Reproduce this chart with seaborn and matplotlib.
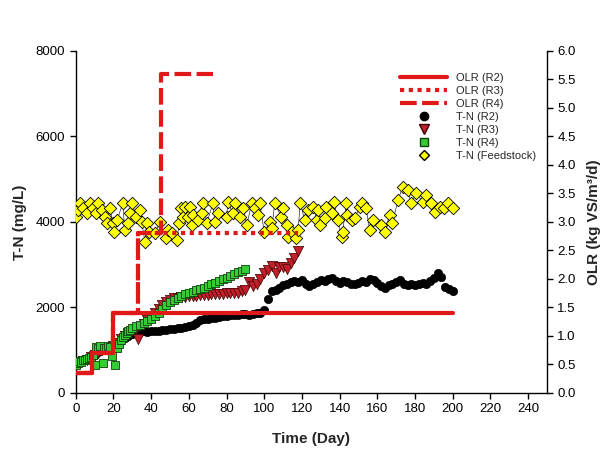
import numpy as np
import matplotlib
matplotlib.use('Agg')
import matplotlib.pyplot as plt
import seaborn as sns
from matplotlib.lines import Line2D
from matplotlib.legend_handler import HandlerLine2D

# ---- OLR (right axis), step profiles ----
olr_r2_day = [0, 8.5, 20, 200]
olr_r2 = [0.35, 0.7, 1.4, 1.4]
olr_r3_day = [0, 8.5, 20, 33, 118]
olr_r3 = [0.35, 0.7, 1.4, 2.8, 2.8]
olr_r4_day = [0, 8.5, 20, 33, 45, 73]
olr_r4 = [0.35, 0.7, 1.4, 2.8, 5.6, 5.6]

# ---- T-N (left axis) ----
tn_r2_day = list(range(0, 202, 2))
tn_r2 = [700, 720, 760, 800, 850, 900, 960, 1000, 1040, 1080,
         1100, 1150, 1220, 1280, 1330, 1370, 1400, 1420, 1440, 1430,
         1450, 1460, 1440, 1470, 1480, 1490, 1500, 1520, 1510, 1540,
         1560, 1600, 1640, 1700, 1720, 1740, 1760, 1760, 1780, 1800,
         1800, 1820, 1830, 1820, 1840, 1850, 1830, 1850, 1860, 1880,
         1950, 2200, 2380, 2420, 2450, 2520, 2560, 2600, 2620, 2600,
         2640, 2560, 2500, 2560, 2600, 2640, 2620, 2660, 2680, 2620,
         2580, 2620, 2600, 2560, 2540, 2580, 2620, 2600, 2660, 2640,
         2580, 2500, 2460, 2520, 2540, 2600, 2640, 2560, 2520, 2540,
         2520, 2560, 2580, 2560, 2620, 2700, 2800, 2720, 2480, 2440,
         2380]

tn_r3_day = [0, 2, 4, 6, 8, 10, 12, 14, 16, 18, 20, 22, 24, 26, 28, 30, 32, 33,
             36, 38, 40, 42, 44, 46, 48, 50, 52, 54, 56, 58, 60, 62, 64, 66,
             68, 70, 72, 74, 76, 78, 80, 82, 84, 86, 88, 90, 92, 94, 96, 98,
             100, 102, 104, 106, 108, 110, 112, 114, 116, 118]
tn_r3 = [680, 700, 740, 780, 850, 900, 960, 1000, 1020, 1060, 1100, 1180,
         1260, 1330, 1400, 1460, 1500, 1270, 1620, 1700, 1780, 1880, 1960,
         2060, 2120, 2180, 2220, 2230, 2240, 2250, 2260, 2270, 2280, 2290,
         2300, 2300, 2310, 2310, 2320, 2320, 2330, 2330, 2340, 2350, 2380,
         2400, 2600, 2500, 2560, 2660, 2800, 2880, 2960, 2800, 2950, 2940,
         2900, 3050, 3150, 3320]

tn_r4_day = [0, 1, 2, 3, 4, 5, 6, 7, 8, 9, 10, 11, 12, 13, 14.6, 15, 16, 17,
             18, 19, 21, 22, 23, 24, 25, 26, 27, 28, 29, 30, 32, 34, 36, 38,
             40, 42, 44, 46, 48, 50, 52, 54, 56, 58, 60, 62, 64, 66, 68, 70,
             72, 74, 76, 78, 80, 82, 84, 86, 88, 90]
tn_r4 = [660, 700, 740, 720, 770, 760, 800, 820, 850, 900, 660, 1080, 1050,
         1100, 700, 1050, 1060, 1100, 1080, 860, 650, 1050, 1150, 1240, 1300,
         1360, 1400, 1450, 1480, 1520, 1560, 1600, 1640, 1680, 1740, 1800,
         1870, 1960, 2060, 2130, 2180, 2230, 2270, 2310, 2340, 2370, 2400,
         2430, 2460, 2500, 2540, 2580, 2620, 2660, 2700, 2740, 2780, 2820,
         2860, 2900]

tn_feed_day = [0, 1, 2.3, 4, 5.8, 7.6, 9, 11, 12, 14, 15.6, 16.5, 18, 19.8,
               20.5, 22, 25, 26, 27.7, 28.8, 30, 32, 34, 35, 36.7, 37.6, 39,
               42, 44.7, 48, 49, 51, 53.6, 55, 56, 57, 58, 59.5, 60.6, 61.6,
               62, 65, 67, 67.5, 69.6, 72.8, 73.8, 75.5, 80, 80.7, 83.3, 84.4,
               87, 88.7, 90.7, 93.4, 95, 96.6, 97.6, 100, 103, 104, 105.6, 109,
               110, 112, 112.6, 114.5, 117, 118, 119, 121.5, 123, 125.8, 128,
               128.4, 129.4, 132, 133, 135.8, 137, 139, 141, 141.6, 143.6, 144,
               146.5, 148, 150.6, 152, 154, 156, 157.6, 162, 163.8, 166.5, 168,
               171, 173.5, 176, 178, 180.7, 184, 186, 188.7, 190.4, 193, 195.6,
               197.4, 200]
tn_feed = [4120, 4280, 4440, 4330, 4210, 4440, 4330, 4210, 4440, 4280, 4120,
           3980, 4330, 3980, 3770, 4050, 4440, 3810, 3980, 4210, 4440, 4120,
           4280, 4000, 3540, 3980, 3770, 3740, 4000, 3630, 3810, 3740, 3580,
           3980, 4330, 4120, 4350, 4120, 4350, 3930, 4160, 4050, 4210, 4440,
           3980, 4440, 4000, 4210, 4120, 4470, 4210, 4440, 4120, 4330, 3930,
           4440, 4330, 4160, 4440, 3770, 4000, 3860, 4440, 4120, 4330, 3930,
           3650, 3770, 3630, 3810, 4440, 4050, 4280, 4350, 4050, 4280, 3930,
           4090, 4350, 4210, 4470, 4050, 3650, 3770, 4440, 4160, 4050, 4090,
           4350, 4440, 4330, 3810, 4050, 3930, 3770, 4160, 3980, 4520, 4820,
           4750, 4440, 4680, 4470, 4630, 4440, 4230, 4350, 4330, 4440, 4330]

x_ticks = list(range(0, 260, 20))
tn_ticks = [0, 2000, 4000, 6000, 8000]
olr_ticks = [0.0, 0.5, 1.0, 1.5, 2.0, 2.5, 3.0, 3.5, 4.0, 4.5, 5.0, 5.5, 6.0]

RED = '#E01818'


class RightMarker(HandlerLine2D):
    def get_xdata(self, legend, xdescent, ydescent, width, height, fontsize):
        xdata = np.array([-xdescent, -xdescent + width])
        return xdata, np.array([-xdescent + width * 0.82])


sns.set_style('ticks')
plt.rcParams['font.family'] = ['Liberation Sans', 'DejaVu Sans']

fig = plt.figure(figsize=(6.14, 4.54), dpi=100)
ax = fig.add_axes([0.1233, 0.1344, 0.7676, 0.7533])
ax2 = ax.twinx()

# T-N series
sns.scatterplot(x=tn_r2_day, y=tn_r2, ax=ax, marker='o', s=36, color='black',
                edgecolor='black', linewidth=0.5, zorder=3)
sns.scatterplot(x=tn_r3_day, y=tn_r3, ax=ax, marker='v', s=55, color='#C0202A',
                edgecolor='#400000', linewidth=0.5, zorder=4)
sns.scatterplot(x=tn_r4_day, y=tn_r4, ax=ax, marker='s', s=34, color='#33CC33',
                edgecolor='#104010', linewidth=0.6, zorder=5)
sns.lineplot(x=tn_feed_day, y=tn_feed, ax=ax, color='black', linewidth=0.4,
             sort=False, estimator=None, zorder=6)
sns.scatterplot(x=tn_feed_day, y=tn_feed, ax=ax, marker='D', s=40, color='#FFFF00',
                edgecolor='black', linewidth=0.6, zorder=7)

# OLR steps
sns.lineplot(x=olr_r2_day, y=olr_r2, ax=ax2, color=RED, linewidth=3,
             drawstyle='steps-post', estimator=None)
sns.lineplot(x=olr_r3_day, y=olr_r3, ax=ax2, color=RED, linewidth=3,
             drawstyle='steps-post', estimator=None, linestyle=(0, (1, 1.1)))
sns.lineplot(x=olr_r4_day, y=olr_r4, ax=ax2, color=RED, linewidth=3,
             drawstyle='steps-post', estimator=None, linestyle=(0, (4, 1.3)))

ax.set_xlim(0, 250)
ax.set_ylim(0, 8000)
ax2.set_ylim(0, 6.0)
ax.set_xticks(x_ticks)
ax.set_yticks(tn_ticks)
ax2.set_yticks(olr_ticks)
ax2.set_yticklabels([f'{v:.1f}' for v in olr_ticks])

for a in (ax, ax2):
    a.spines['top'].set_visible(False)
    a.tick_params(direction='out', length=4, width=1, labelsize=9.5, colors='black')
    for sp in a.spines.values():
        sp.set_color('black')
        sp.set_linewidth(1)
ax.spines['right'].set_visible(False)
ax2.spines['left'].set_visible(False)
ax2.spines['bottom'].set_visible(False)

ax.set_xlabel('Time (Day)', fontsize=11, fontweight='bold', labelpad=12)
ax.set_ylabel('T-N (mg/L)', fontsize=11, fontweight='bold', labelpad=6)
ax2.set_ylabel('OLR (kg VS/m³/d)', fontsize=11, fontweight='bold', labelpad=8)

handles = [
    Line2D([], [], color=RED, lw=3),
    Line2D([], [], color=RED, lw=3, ls=(0, (1, 1.1))),
    Line2D([], [], color=RED, lw=3, ls=(0, (4, 1.3))),
    Line2D([], [], ls='none', marker='o', ms=6, color='black'),
    Line2D([], [], ls='none', marker='v', ms=7, color='#C0202A', mec='#400000'),
    Line2D([], [], ls='none', marker='s', ms=6, color='#33CC33', mec='#104010'),
    Line2D([], [], ls='none', marker='D', ms=5.5, color='#FFFF00', mec='black'),
]
labels = ['OLR (R2)', 'OLR (R3)', 'OLR (R4)', 'T-N (R2)', 'T-N (R3)',
          'T-N (R4)', 'T-N (Feedstock)']
leg = ax2.legend(handles, labels, loc='upper left', bbox_to_anchor=(0.651, 0.84),
                 bbox_transform=fig.transFigure, frameon=False, fontsize=8,
                 handlelength=4.3, handletextpad=0.8, labelspacing=0.28,
                 borderpad=0, borderaxespad=0,
                 handler_map={Line2D: RightMarker(numpoints=1)})

fig.savefig('out.png', dpi=100)
